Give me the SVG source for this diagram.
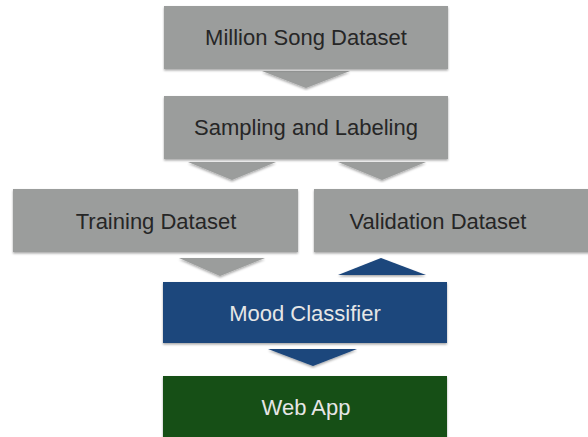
<svg xmlns="http://www.w3.org/2000/svg" width="588" height="437" viewBox="0 0 588 437">
<defs>
<filter id="sh" x="-5%" y="-10%" width="110%" height="125%">
<feDropShadow dx="0" dy="1.5" stdDeviation="1" flood-color="#000" flood-opacity="0.35"/>
</filter>
</defs>
<style>
.g{fill:#9b9d9c;filter:url(#sh)}
.b{fill:#1b467c;filter:url(#sh)}
.gr{fill:#125019;filter:url(#sh)}
.tg{font-family:"Liberation Sans",Arial,sans-serif;font-size:22px;fill:#262626;text-anchor:middle}
.tw{font-family:"Liberation Sans",Arial,sans-serif;font-size:22px;fill:#e6e6e6;text-anchor:middle}
</style>
<rect width="588" height="437" fill="#fff"/>
<g id="connectors">
<polygon class="g" points="262,71 350,71 306,88"/>
<polygon class="g" points="188,162 276,162 232,180"/>
<polygon class="g" points="338,162 426,162 382,180"/>
<polygon class="g" points="179,258 265,258 220,276"/>
<polygon class="b" points="338,275 426,275 381,258"/>
<polygon class="b" points="268,349 357,349 313,366"/>
</g>
<g id="million">
<rect class="g" x="164" y="6" width="284" height="63"/>
<text class="tg" x="306" y="45">Million Song Dataset</text>
</g>
<g id="sampling">
<rect class="g" x="164" y="96" width="284" height="63"/>
<text class="tg" x="306" y="135">Sampling and Labeling</text>
</g>
<g id="training">
<rect class="g" x="13" y="189" width="285" height="63"/>
<text class="tg" x="156" y="229">Training Dataset</text>
</g>
<g id="validation">
<rect class="g" x="314" y="189" width="280" height="63"/>
<text class="tg" x="438" y="229">Validation Dataset</text>
</g>
<g id="mood">
<rect class="b" x="163" y="282" width="284" height="61"/>
<text class="tw" x="305" y="321">Mood Classifier</text>
</g>
<g id="webapp">
<rect class="gr" x="163" y="376" width="284" height="66"/>
<text class="tw" x="306" y="415">Web App</text>
</g>
</svg>
